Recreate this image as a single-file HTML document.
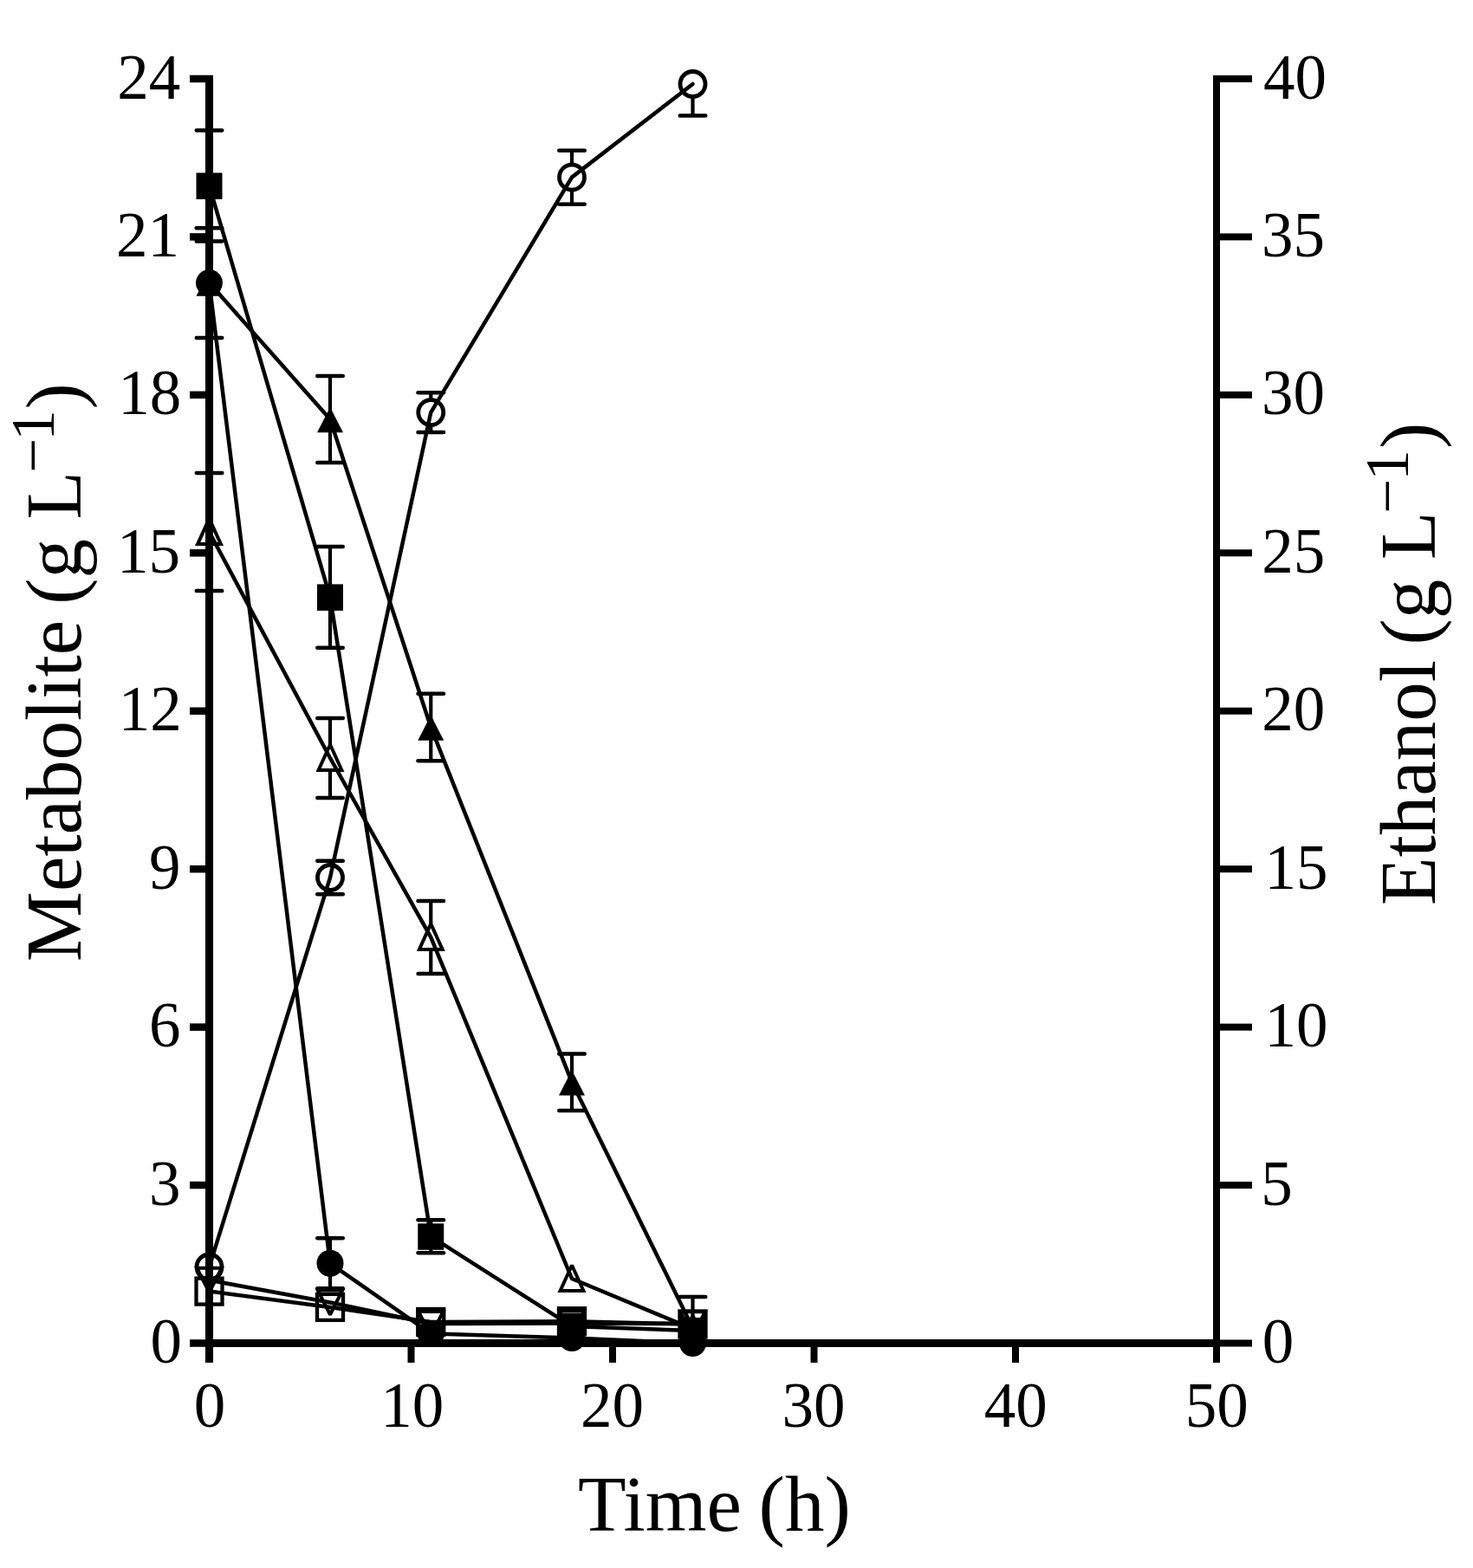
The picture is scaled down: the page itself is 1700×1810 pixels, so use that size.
<!DOCTYPE html>
<html><head><meta charset="utf-8"><title>Metabolite and ethanol time course</title>
<style>
html,body{margin:0;padding:0;background:#fff;}
svg{display:block;}
.t{font-family:"Liberation Serif","Times New Roman",serif;font-size:73px;fill:#000;}
.ti{font-family:"Liberation Serif","Times New Roman",serif;font-size:91px;fill:#000;}
.sup{font-size:71px;}
</style></head><body>
<svg width="1700" height="1810" viewBox="0 0 1700 1810">
<rect width="1700" height="1810" fill="#fff"/>
<g id="data">
<polyline points="241.50,326.50 381.00,484.00 497.25,839.50 660.00,1249.20 799.50,1533.00" fill="none" stroke="#000" stroke-width="4.5" stroke-linejoin="round" stroke-linecap="round"/>
<line x1="381.00" y1="484.00" x2="381.00" y2="434.00" stroke="#000" stroke-width="4.2"/>
<line x1="366.25" y1="434.00" x2="395.75" y2="434.00" stroke="#000" stroke-width="4.5" stroke-linecap="round"/>
<line x1="381.00" y1="484.00" x2="381.00" y2="534.00" stroke="#000" stroke-width="4.2"/>
<line x1="366.25" y1="534.00" x2="395.75" y2="534.00" stroke="#000" stroke-width="4.5" stroke-linecap="round"/>
<line x1="497.25" y1="839.50" x2="497.25" y2="800.80" stroke="#000" stroke-width="4.2"/>
<line x1="482.50" y1="800.80" x2="512.00" y2="800.80" stroke="#000" stroke-width="4.5" stroke-linecap="round"/>
<line x1="497.25" y1="839.50" x2="497.25" y2="878.20" stroke="#000" stroke-width="4.2"/>
<line x1="482.50" y1="878.20" x2="512.00" y2="878.20" stroke="#000" stroke-width="4.5" stroke-linecap="round"/>
<line x1="660.00" y1="1249.20" x2="660.00" y2="1216.50" stroke="#000" stroke-width="4.2"/>
<line x1="645.25" y1="1216.50" x2="674.75" y2="1216.50" stroke="#000" stroke-width="4.5" stroke-linecap="round"/>
<line x1="660.00" y1="1249.20" x2="660.00" y2="1281.90" stroke="#000" stroke-width="4.2"/>
<line x1="645.25" y1="1281.90" x2="674.75" y2="1281.90" stroke="#000" stroke-width="4.5" stroke-linecap="round"/>
<line x1="799.50" y1="1533.00" x2="799.50" y2="1497.00" stroke="#000" stroke-width="4.2"/>
<line x1="784.75" y1="1497.00" x2="814.25" y2="1497.00" stroke="#000" stroke-width="4.5" stroke-linecap="round"/>
<polygon points="241.50,312.50 256.50,341.80 226.50,341.80" fill="#000"/>
<polygon points="381.00,470.00 396.00,499.30 366.00,499.30" fill="#000"/>
<polygon points="497.25,825.50 512.25,854.80 482.25,854.80" fill="#000"/>
<polygon points="660.00,1235.20 675.00,1264.50 645.00,1264.50" fill="#000"/>
<polygon points="799.50,1519.00 814.50,1548.30 784.50,1548.30" fill="#000"/>
<polyline points="241.50,326.60 381.00,1458.30 497.25,1539.40 660.00,1544.50 799.50,1550.50" fill="none" stroke="#000" stroke-width="4.5" stroke-linejoin="round" stroke-linecap="round"/>
<line x1="241.50" y1="326.60" x2="241.50" y2="263.30" stroke="#000" stroke-width="4.2"/>
<line x1="226.75" y1="263.30" x2="256.25" y2="263.30" stroke="#000" stroke-width="4.5" stroke-linecap="round"/>
<line x1="241.50" y1="326.60" x2="241.50" y2="389.90" stroke="#000" stroke-width="4.2"/>
<line x1="226.75" y1="389.90" x2="256.25" y2="389.90" stroke="#000" stroke-width="4.5" stroke-linecap="round"/>
<line x1="381.00" y1="1458.30" x2="381.00" y2="1429.30" stroke="#000" stroke-width="4.2"/>
<line x1="366.25" y1="1429.30" x2="395.75" y2="1429.30" stroke="#000" stroke-width="4.5" stroke-linecap="round"/>
<line x1="381.00" y1="1458.30" x2="381.00" y2="1487.30" stroke="#000" stroke-width="4.2"/>
<line x1="366.25" y1="1487.30" x2="395.75" y2="1487.30" stroke="#000" stroke-width="4.5" stroke-linecap="round"/>
<circle cx="241.50" cy="326.60" r="15.5" fill="#000"/>
<circle cx="381.00" cy="1458.30" r="15.5" fill="#000"/>
<circle cx="497.25" cy="1539.40" r="15.5" fill="#000"/>
<circle cx="660.00" cy="1544.50" r="15.5" fill="#000"/>
<circle cx="799.50" cy="1550.50" r="15.5" fill="#000"/>
<polyline points="241.50,214.50 381.00,689.40 497.25,1427.30 660.00,1531.00 799.50,1536.00" fill="none" stroke="#000" stroke-width="4.5" stroke-linejoin="round" stroke-linecap="round"/>
<line x1="241.50" y1="214.50" x2="241.50" y2="150.50" stroke="#000" stroke-width="4.2"/>
<line x1="226.75" y1="150.50" x2="256.25" y2="150.50" stroke="#000" stroke-width="4.5" stroke-linecap="round"/>
<line x1="241.50" y1="214.50" x2="241.50" y2="278.50" stroke="#000" stroke-width="4.2"/>
<line x1="226.75" y1="278.50" x2="256.25" y2="278.50" stroke="#000" stroke-width="4.5" stroke-linecap="round"/>
<line x1="381.00" y1="689.40" x2="381.00" y2="631.10" stroke="#000" stroke-width="4.2"/>
<line x1="366.25" y1="631.10" x2="395.75" y2="631.10" stroke="#000" stroke-width="4.5" stroke-linecap="round"/>
<line x1="381.00" y1="689.40" x2="381.00" y2="747.70" stroke="#000" stroke-width="4.2"/>
<line x1="366.25" y1="747.70" x2="395.75" y2="747.70" stroke="#000" stroke-width="4.5" stroke-linecap="round"/>
<line x1="497.25" y1="1427.30" x2="497.25" y2="1408.30" stroke="#000" stroke-width="4.2"/>
<line x1="482.50" y1="1408.30" x2="512.00" y2="1408.30" stroke="#000" stroke-width="4.5" stroke-linecap="round"/>
<line x1="497.25" y1="1427.30" x2="497.25" y2="1446.30" stroke="#000" stroke-width="4.2"/>
<line x1="482.50" y1="1446.30" x2="512.00" y2="1446.30" stroke="#000" stroke-width="4.5" stroke-linecap="round"/>
<rect x="226.50" y="199.50" width="30" height="30.5" fill="#000"/>
<rect x="366.00" y="674.40" width="30" height="30.5" fill="#000"/>
<rect x="482.25" y="1412.30" width="30" height="30.5" fill="#000"/>
<rect x="645.00" y="1516.00" width="30" height="30.5" fill="#000"/>
<rect x="784.50" y="1521.00" width="30" height="30.5" fill="#000"/>
<polyline points="241.50,614.10 381.00,875.00 497.25,1081.90 660.00,1476.00 799.50,1534.00" fill="none" stroke="#000" stroke-width="4.5" stroke-linejoin="round" stroke-linecap="round"/>
<line x1="241.50" y1="598.60" x2="241.50" y2="546.10" stroke="#000" stroke-width="4.2"/>
<line x1="226.75" y1="546.10" x2="256.25" y2="546.10" stroke="#000" stroke-width="4.5" stroke-linecap="round"/>
<line x1="241.50" y1="628.10" x2="241.50" y2="682.10" stroke="#000" stroke-width="4.2"/>
<line x1="226.75" y1="682.10" x2="256.25" y2="682.10" stroke="#000" stroke-width="4.5" stroke-linecap="round"/>
<line x1="381.00" y1="859.50" x2="381.00" y2="829.00" stroke="#000" stroke-width="4.2"/>
<line x1="366.25" y1="829.00" x2="395.75" y2="829.00" stroke="#000" stroke-width="4.5" stroke-linecap="round"/>
<line x1="381.00" y1="889.00" x2="381.00" y2="921.00" stroke="#000" stroke-width="4.2"/>
<line x1="366.25" y1="921.00" x2="395.75" y2="921.00" stroke="#000" stroke-width="4.5" stroke-linecap="round"/>
<line x1="497.25" y1="1066.40" x2="497.25" y2="1039.90" stroke="#000" stroke-width="4.2"/>
<line x1="482.50" y1="1039.90" x2="512.00" y2="1039.90" stroke="#000" stroke-width="4.5" stroke-linecap="round"/>
<line x1="497.25" y1="1095.90" x2="497.25" y2="1123.90" stroke="#000" stroke-width="4.2"/>
<line x1="482.50" y1="1123.90" x2="512.00" y2="1123.90" stroke="#000" stroke-width="4.5" stroke-linecap="round"/>
<polygon points="241.50,598.60 254.90,628.10 228.10,628.10" fill="none" stroke="#000" stroke-width="4" stroke-miterlimit="2"/>
<polygon points="381.00,859.50 394.40,889.00 367.60,889.00" fill="none" stroke="#000" stroke-width="4" stroke-miterlimit="2"/>
<polygon points="497.25,1066.40 510.65,1095.90 483.85,1095.90" fill="none" stroke="#000" stroke-width="4" stroke-miterlimit="2"/>
<polygon points="660.00,1460.50 673.40,1490.00 646.60,1490.00" fill="none" stroke="#000" stroke-width="4" stroke-miterlimit="2"/>
<polygon points="799.50,1518.50 812.90,1548.00 786.10,1548.00" fill="none" stroke="#000" stroke-width="4" stroke-miterlimit="2"/>
<polyline points="241.50,1490.60 381.00,1508.90 497.25,1526.00 660.00,1525.20 799.50,1528.50" fill="none" stroke="#000" stroke-width="4.5" stroke-linejoin="round" stroke-linecap="round"/>

<rect x="226.50" y="1475.60" width="30" height="30" fill="none" stroke="#000" stroke-width="4.3"/>
<rect x="366.00" y="1493.90" width="30" height="30" fill="none" stroke="#000" stroke-width="4.3"/>
<rect x="482.25" y="1511.00" width="30" height="30" fill="none" stroke="#000" stroke-width="4.3"/>
<rect x="645.00" y="1510.20" width="30" height="30" fill="none" stroke="#000" stroke-width="4.3"/>
<rect x="784.50" y="1513.50" width="30" height="30" fill="none" stroke="#000" stroke-width="4.3"/>
<polyline points="241.50,1477.80 381.00,1503.50 497.25,1528.00 660.00,1527.50 799.50,1528.20" fill="none" stroke="#000" stroke-width="4.5" stroke-linejoin="round" stroke-linecap="round"/>

<polygon points="241.50,1491.80 255.70,1463.80 227.30,1463.80" fill="none" stroke="#000" stroke-width="4" stroke-miterlimit="2"/>
<polygon points="381.00,1517.50 395.20,1489.50 366.80,1489.50" fill="none" stroke="#000" stroke-width="4" stroke-miterlimit="2"/>
<polygon points="497.25,1542.00 511.45,1514.00 483.05,1514.00" fill="none" stroke="#000" stroke-width="4" stroke-miterlimit="2"/>
<polygon points="660.00,1541.50 674.20,1513.50 645.80,1513.50" fill="none" stroke="#000" stroke-width="4" stroke-miterlimit="2"/>
<polygon points="799.50,1542.20 813.70,1514.20 785.30,1514.20" fill="none" stroke="#000" stroke-width="4" stroke-miterlimit="2"/>
<polyline points="241.50,1462.50 381.00,1013.00 497.25,476.10 660.00,204.65 799.50,97.00" fill="none" stroke="#000" stroke-width="4.5" stroke-linejoin="round" stroke-linecap="round"/>
<line x1="381.00" y1="998.50" x2="381.00" y2="993.70" stroke="#000" stroke-width="4.2"/>
<line x1="366.25" y1="993.70" x2="395.75" y2="993.70" stroke="#000" stroke-width="4.5" stroke-linecap="round"/>
<line x1="381.00" y1="1027.50" x2="381.00" y2="1032.30" stroke="#000" stroke-width="4.2"/>
<line x1="366.25" y1="1032.30" x2="395.75" y2="1032.30" stroke="#000" stroke-width="4.5" stroke-linecap="round"/>
<line x1="497.25" y1="461.60" x2="497.25" y2="453.30" stroke="#000" stroke-width="4.2"/>
<line x1="482.50" y1="453.30" x2="512.00" y2="453.30" stroke="#000" stroke-width="4.5" stroke-linecap="round"/>
<line x1="497.25" y1="490.60" x2="497.25" y2="498.90" stroke="#000" stroke-width="4.2"/>
<line x1="482.50" y1="498.90" x2="512.00" y2="498.90" stroke="#000" stroke-width="4.5" stroke-linecap="round"/>
<line x1="660.00" y1="190.15" x2="660.00" y2="173.65" stroke="#000" stroke-width="4.2"/>
<line x1="645.25" y1="173.65" x2="674.75" y2="173.65" stroke="#000" stroke-width="4.5" stroke-linecap="round"/>
<line x1="660.00" y1="219.15" x2="660.00" y2="235.65" stroke="#000" stroke-width="4.2"/>
<line x1="645.25" y1="235.65" x2="674.75" y2="235.65" stroke="#000" stroke-width="4.5" stroke-linecap="round"/>
<line x1="799.50" y1="111.50" x2="799.50" y2="133.40" stroke="#000" stroke-width="4.2"/>
<line x1="784.75" y1="133.40" x2="814.25" y2="133.40" stroke="#000" stroke-width="4.5" stroke-linecap="round"/>
<circle cx="241.50" cy="1462.50" r="14.5" fill="none" stroke="#000" stroke-width="4.8"/>
<circle cx="381.00" cy="1013.00" r="14.5" fill="none" stroke="#000" stroke-width="4.8"/>
<circle cx="497.25" cy="476.10" r="14.5" fill="none" stroke="#000" stroke-width="4.8"/>
<circle cx="660.00" cy="204.65" r="14.5" fill="none" stroke="#000" stroke-width="4.8"/>
<circle cx="799.50" cy="97.00" r="14.5" fill="none" stroke="#000" stroke-width="4.8"/>
</g>
<g id="axes">
<rect x="237" y="87" width="9" height="1468" fill="#000"/>
<rect x="1400" y="87" width="8" height="1468" fill="#000"/>
<rect x="237" y="1546" width="1171" height="9" fill="#000"/>
<rect x="219" y="1546.25" width="27" height="8.5" fill="#000"/>
<rect x="1400" y="1546.50" width="45" height="8" fill="#000"/>
<rect x="219" y="1363.81" width="27" height="8.5" fill="#000"/>
<rect x="1400" y="1364.06" width="45" height="8" fill="#000"/>
<rect x="219" y="1181.37" width="27" height="8.5" fill="#000"/>
<rect x="1400" y="1181.62" width="45" height="8" fill="#000"/>
<rect x="219" y="998.93" width="27" height="8.5" fill="#000"/>
<rect x="1400" y="999.18" width="45" height="8" fill="#000"/>
<rect x="219" y="816.49" width="27" height="8.5" fill="#000"/>
<rect x="1400" y="816.74" width="45" height="8" fill="#000"/>
<rect x="219" y="634.05" width="27" height="8.5" fill="#000"/>
<rect x="1400" y="634.30" width="45" height="8" fill="#000"/>
<rect x="219" y="451.61" width="27" height="8.5" fill="#000"/>
<rect x="1400" y="451.86" width="45" height="8" fill="#000"/>
<rect x="219" y="269.17" width="27" height="8.5" fill="#000"/>
<rect x="1400" y="269.42" width="45" height="8" fill="#000"/>
<rect x="219" y="86.73" width="27" height="8.5" fill="#000"/>
<rect x="1400" y="86.98" width="45" height="8" fill="#000"/>
<rect x="237.00" y="1546" width="9" height="27" fill="#000"/>
<rect x="470.50" y="1546" width="8" height="27" fill="#000"/>
<rect x="703.00" y="1546" width="8" height="27" fill="#000"/>
<rect x="935.50" y="1546" width="8" height="27" fill="#000"/>
<rect x="1168.00" y="1546" width="8" height="27" fill="#000"/>
<rect x="1400.00" y="1546" width="8" height="27" fill="#000"/>
</g>
<g id="labels">
<text x="173.38" y="1573.10" class="t">0</text>
<text x="1456.72" y="1573.10" class="t">0</text>
<text x="171.95" y="1390.66" class="t">3</text>
<text x="1455.26" y="1390.66" class="t">5</text>
<text x="171.97" y="1208.22" class="t">6</text>
<text x="1459.38" y="1208.22" class="t">10</text>
<text x="172.09" y="1025.78" class="t">9</text>
<text x="1459.38" y="1025.78" class="t">15</text>
<text x="136.63" y="843.34" class="t">12</text>
<text x="1456.29" y="843.34" class="t">20</text>
<text x="135.05" y="660.90" class="t">15</text>
<text x="1456.29" y="660.90" class="t">25</text>
<text x="136.28" y="478.46" class="t">18</text>
<text x="1456.01" y="478.46" class="t">30</text>
<text x="134.08" y="296.02" class="t">21</text>
<text x="1456.01" y="296.02" class="t">35</text>
<text x="135.14" y="113.58" class="t">24</text>
<text x="1458.07" y="113.58" class="t">40</text>
<text x="223.65" y="1646.5" class="t">0</text>
<text x="439.18" y="1646.5" class="t">10</text>
<text x="669.89" y="1646.5" class="t">20</text>
<text x="902.39" y="1646.5" class="t">30</text>
<text x="1135.78" y="1646.5" class="t">40</text>
<text x="1367.77" y="1646.5" class="t">50</text>
<text x="667" y="1767.4" class="ti">Time <tspan dx="-3">(h)</tspan></text>
<text transform="translate(93,1110) rotate(-90)" class="ti"><tspan x="0" y="0">Metabolite </tspan><tspan x="412.2" y="0">(g </tspan><tspan x="510.4" y="0">L</tspan><tspan x="563.9" y="-31" class="sup">−</tspan><tspan x="601.3" y="-31" class="sup">1</tspan><tspan x="637.4" y="0">)</tspan></text>
<text transform="translate(1655.5,1045) rotate(-90)" class="ti"><tspan x="0" y="0">Ethanol </tspan><tspan x="300.4" y="0">(g </tspan><tspan x="399" y="0">L</tspan><tspan x="451.9" y="-31" class="sup">−</tspan><tspan x="490.3" y="-31" class="sup">1</tspan><tspan x="526.9" y="0">)</tspan></text>
</g>
</svg>
</body></html>
